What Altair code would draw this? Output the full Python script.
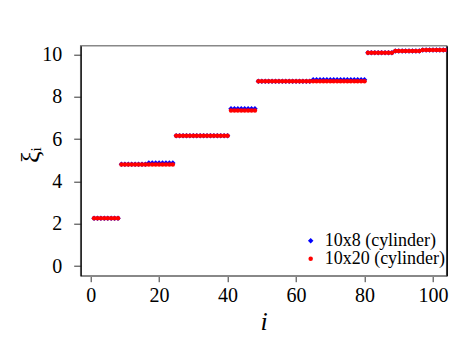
import altair as alt
import pandas as pd

# run-length description of the two series (level, number of consecutive i values)
red_levels = [2.26, 4.80, 6.16, 7.35, 8.73, 10.08, 10.16, 10.21]
red_counts = [8, 16, 16, 8, 32, 8, 8, 8]
blue_levels = [2.26, 4.81, 4.87, 6.16, 7.43, 8.73, 8.80, 10.08, 10.16, 10.21]
blue_counts = [8, 8, 8, 16, 8, 16, 16, 8, 8, 8]
series_names = ["10x8 (cylinder)", "10x20 (cylinder)"]
x_ticks = [0, 20, 40, 60, 80, 100]
y_ticks = [0, 2, 4, 6, 8, 10]


def expand(levels, counts):
    out = []
    for v, c in zip(levels, counts):
        out.extend([v] * c)
    return out


blue_vals = expand(blue_levels, blue_counts)
red_vals = expand(red_levels, red_counts)
rows = []
for k, v in enumerate(blue_vals):
    rows.append({"i": k + 1, "xi": v, "series": series_names[0]})
for k, v in enumerate(red_vals):
    rows.append({"i": k + 1, "xi": v, "series": series_names[1]})
df = pd.DataFrame(rows)

FONT = "Liberation Serif"
W, H = 366, 230

xscale = alt.Scale(domain=[-2.9, 104.0], nice=False, zero=False)
yscale = alt.Scale(domain=[-0.454, 10.41], nice=False, zero=False)

xaxis = alt.Axis(
    values=x_ticks, grid=False, domainColor="#888888", domainWidth=1.5,
    tickColor="#333333", tickSize=6, labelFont=FONT, labelFontSize=20,
    labelColor="black", labelPadding=4, title="i", titleFont=FONT,
    titleFontSize=26, titleFontStyle="italic", titleFontWeight="normal",
    titleColor="black", titleX=W / 2, titleY=46, titleBaseline="middle")

legend = alt.Legend(
    title=None, orient="none", legendX=221, legendY=186,
    labelFont=FONT, labelFontSize=18, labelColor="black",
    labelOffset=5, rowPadding=-1, symbolSize=30, padding=0,
    symbolStrokeWidth=0,
)

points = alt.Chart(df).mark_point(filled=True, opacity=1, clip=True, strokeWidth=0).encode(
    x=alt.X("i:Q", scale=xscale, axis=xaxis),
    y=alt.Y("xi:Q", scale=yscale, axis=alt.Axis(
        values=y_ticks, grid=False, domainColor="black", domainWidth=1.2,
        tickColor="#333333", tickSize=7, labelFont=FONT, labelFontSize=20,
        labelColor="black", labelPadding=12, title="ξᵢ", titleFont=FONT,
        titleFontSize=26, titleFontWeight="normal", titleColor="black",
        titleX=-50, titleY=109, titleAlign="center", titleBaseline="middle")),
    color=alt.Color("series:N", sort=series_names,
                    scale=alt.Scale(domain=series_names, range=["#0000ff", "#ff0000"]),
                    legend=legend),
    shape=alt.Shape("series:N", sort=series_names,
                    scale=alt.Scale(domain=series_names, range=["diamond", "circle"]),
                    legend=legend),
    size=alt.Size("series:N", sort=series_names,
                  scale=alt.Scale(domain=series_names, range=[30, 20]),
                  legend=None),
)

right_border = alt.Chart(df).mark_point(opacity=0).encode(
    x=alt.X("i:Q", scale=xscale, axis=xaxis),
    y=alt.Y("xi:Q", scale=yscale, axis=alt.Axis(
        orient="right", labels=False, ticks=False, grid=False, title=None,
        domainColor="black", domainWidth=1.5)),
)

chart = alt.layer(points, right_border).resolve_axis(y="independent").properties(
    width=W, height=H,
    autosize=alt.AutoSizeParams(type="none"),
    padding={"left": 72.7, "top": 37.7, "right": 5, "bottom": 61},
).configure_view(stroke="#888888", strokeWidth=1.5)

chart.save("out.html", embed_options={"renderer": "svg", "actions": False})
